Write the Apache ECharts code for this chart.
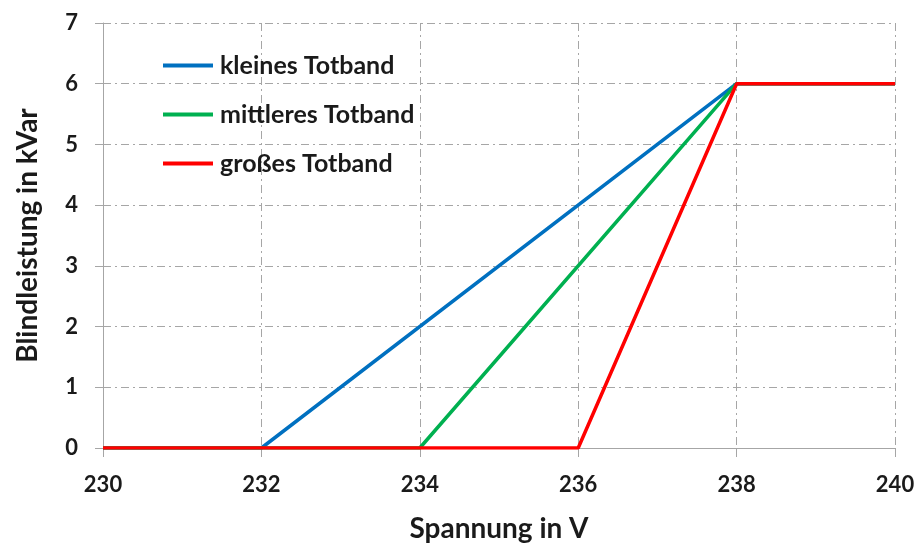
<!DOCTYPE html>
<html>
<head>
<meta charset="utf-8">
<script src="https://cdn.jsdelivr.net/npm/echarts@6/dist/echarts.min.js"></script>
<style>
  html, body { margin: 0; padding: 0; background: #fff; }
  #chart { width: 919px; height: 545px; }
</style>
</head>
<body>
<div id="chart"></div>
<script>
// Reactive power characteristic Q(U) for three dead-band widths
const seriesNames = ['kleines Totband', 'mittleres Totband', 'großes Totband'];
const voltage = {
  klein:    [230, 232, 238, 240],
  mittel:   [230, 234, 238, 240],
  gross:    [230, 236, 238, 240]
};
const power = {
  klein:    [0, 0, 6, 6],
  mittel:   [0, 0, 6, 6],
  gross:    [0, 0, 6, 6]
};
const colors = ['#0070C0', '#00B050', '#FF0000'];
const keys = ['klein', 'mittel', 'gross'];

const FONT = 'Lato, "Open Sans", sans-serif';
const TEXT = '#1a1a1a';
const gridStyle = { color: '#a6a6a6', width: 1, type: [8, 4, 2, 4] };

const chart = echarts.init(document.getElementById('chart'), null, { renderer: 'canvas' });
chart.setOption({
  animation: false,
  backgroundColor: '#fff',
  grid: { left: 103, right: 24, top: 23, bottom: 97, containLabel: false, outerBoundsMode: 'none' },
  legend: {
    orient: 'vertical',
    left: 158,
    top: 48,
    itemWidth: 50,
    itemHeight: 4,
    itemGap: 24,
    icon: 'rect',
    data: seriesNames,
    textStyle: { fontFamily: FONT, fontWeight: 'bold', fontSize: 25, color: TEXT, padding: [0, 0, 0, 2] }
  },
  xAxis: {
    type: 'value',
    min: 230, max: 240, interval: 2,
    name: 'Spannung in V',
    nameLocation: 'middle',
    nameGap: 67,
    nameTextStyle: { fontFamily: FONT, fontWeight: 'bold', fontSize: 28, color: TEXT },
    axisLine: { show: true, lineStyle: { color: '#a6a6a6', width: 1 } },
    axisTick: { show: true, length: 9, lineStyle: { color: '#a6a6a6' } },
    axisLabel: { fontFamily: FONT, fontWeight: 'bold', fontSize: 22, color: TEXT, margin: 26 },
    splitLine: { show: true, lineStyle: gridStyle }
  },
  yAxis: {
    type: 'value',
    min: 0, max: 7, interval: 1,
    name: 'Blindleistung in kVar',
    nameLocation: 'middle',
    nameGap: 61,
    nameTextStyle: { fontFamily: FONT, fontWeight: 'bold', fontSize: 28, color: TEXT },
    axisLine: { show: true, lineStyle: { color: '#a6a6a6', width: 1 } },
    axisTick: { show: true, length: 8, lineStyle: { color: '#a6a6a6' } },
    axisLabel: { fontFamily: FONT, fontWeight: 'bold', fontSize: 22, color: TEXT, margin: 25 },
    splitLine: { show: true, lineStyle: gridStyle }
  },
  series: keys.map((k, i) => ({
    name: seriesNames[i],
    type: 'line',
    data: voltage[k].map((v, j) => [v, power[k][j]]),
    showSymbol: false,
    symbol: 'none',
    color: colors[i],
    lineStyle: { color: colors[i], width: 3.5 },
    z: 2 + i
  }))
});
</script>
</body>
</html>
